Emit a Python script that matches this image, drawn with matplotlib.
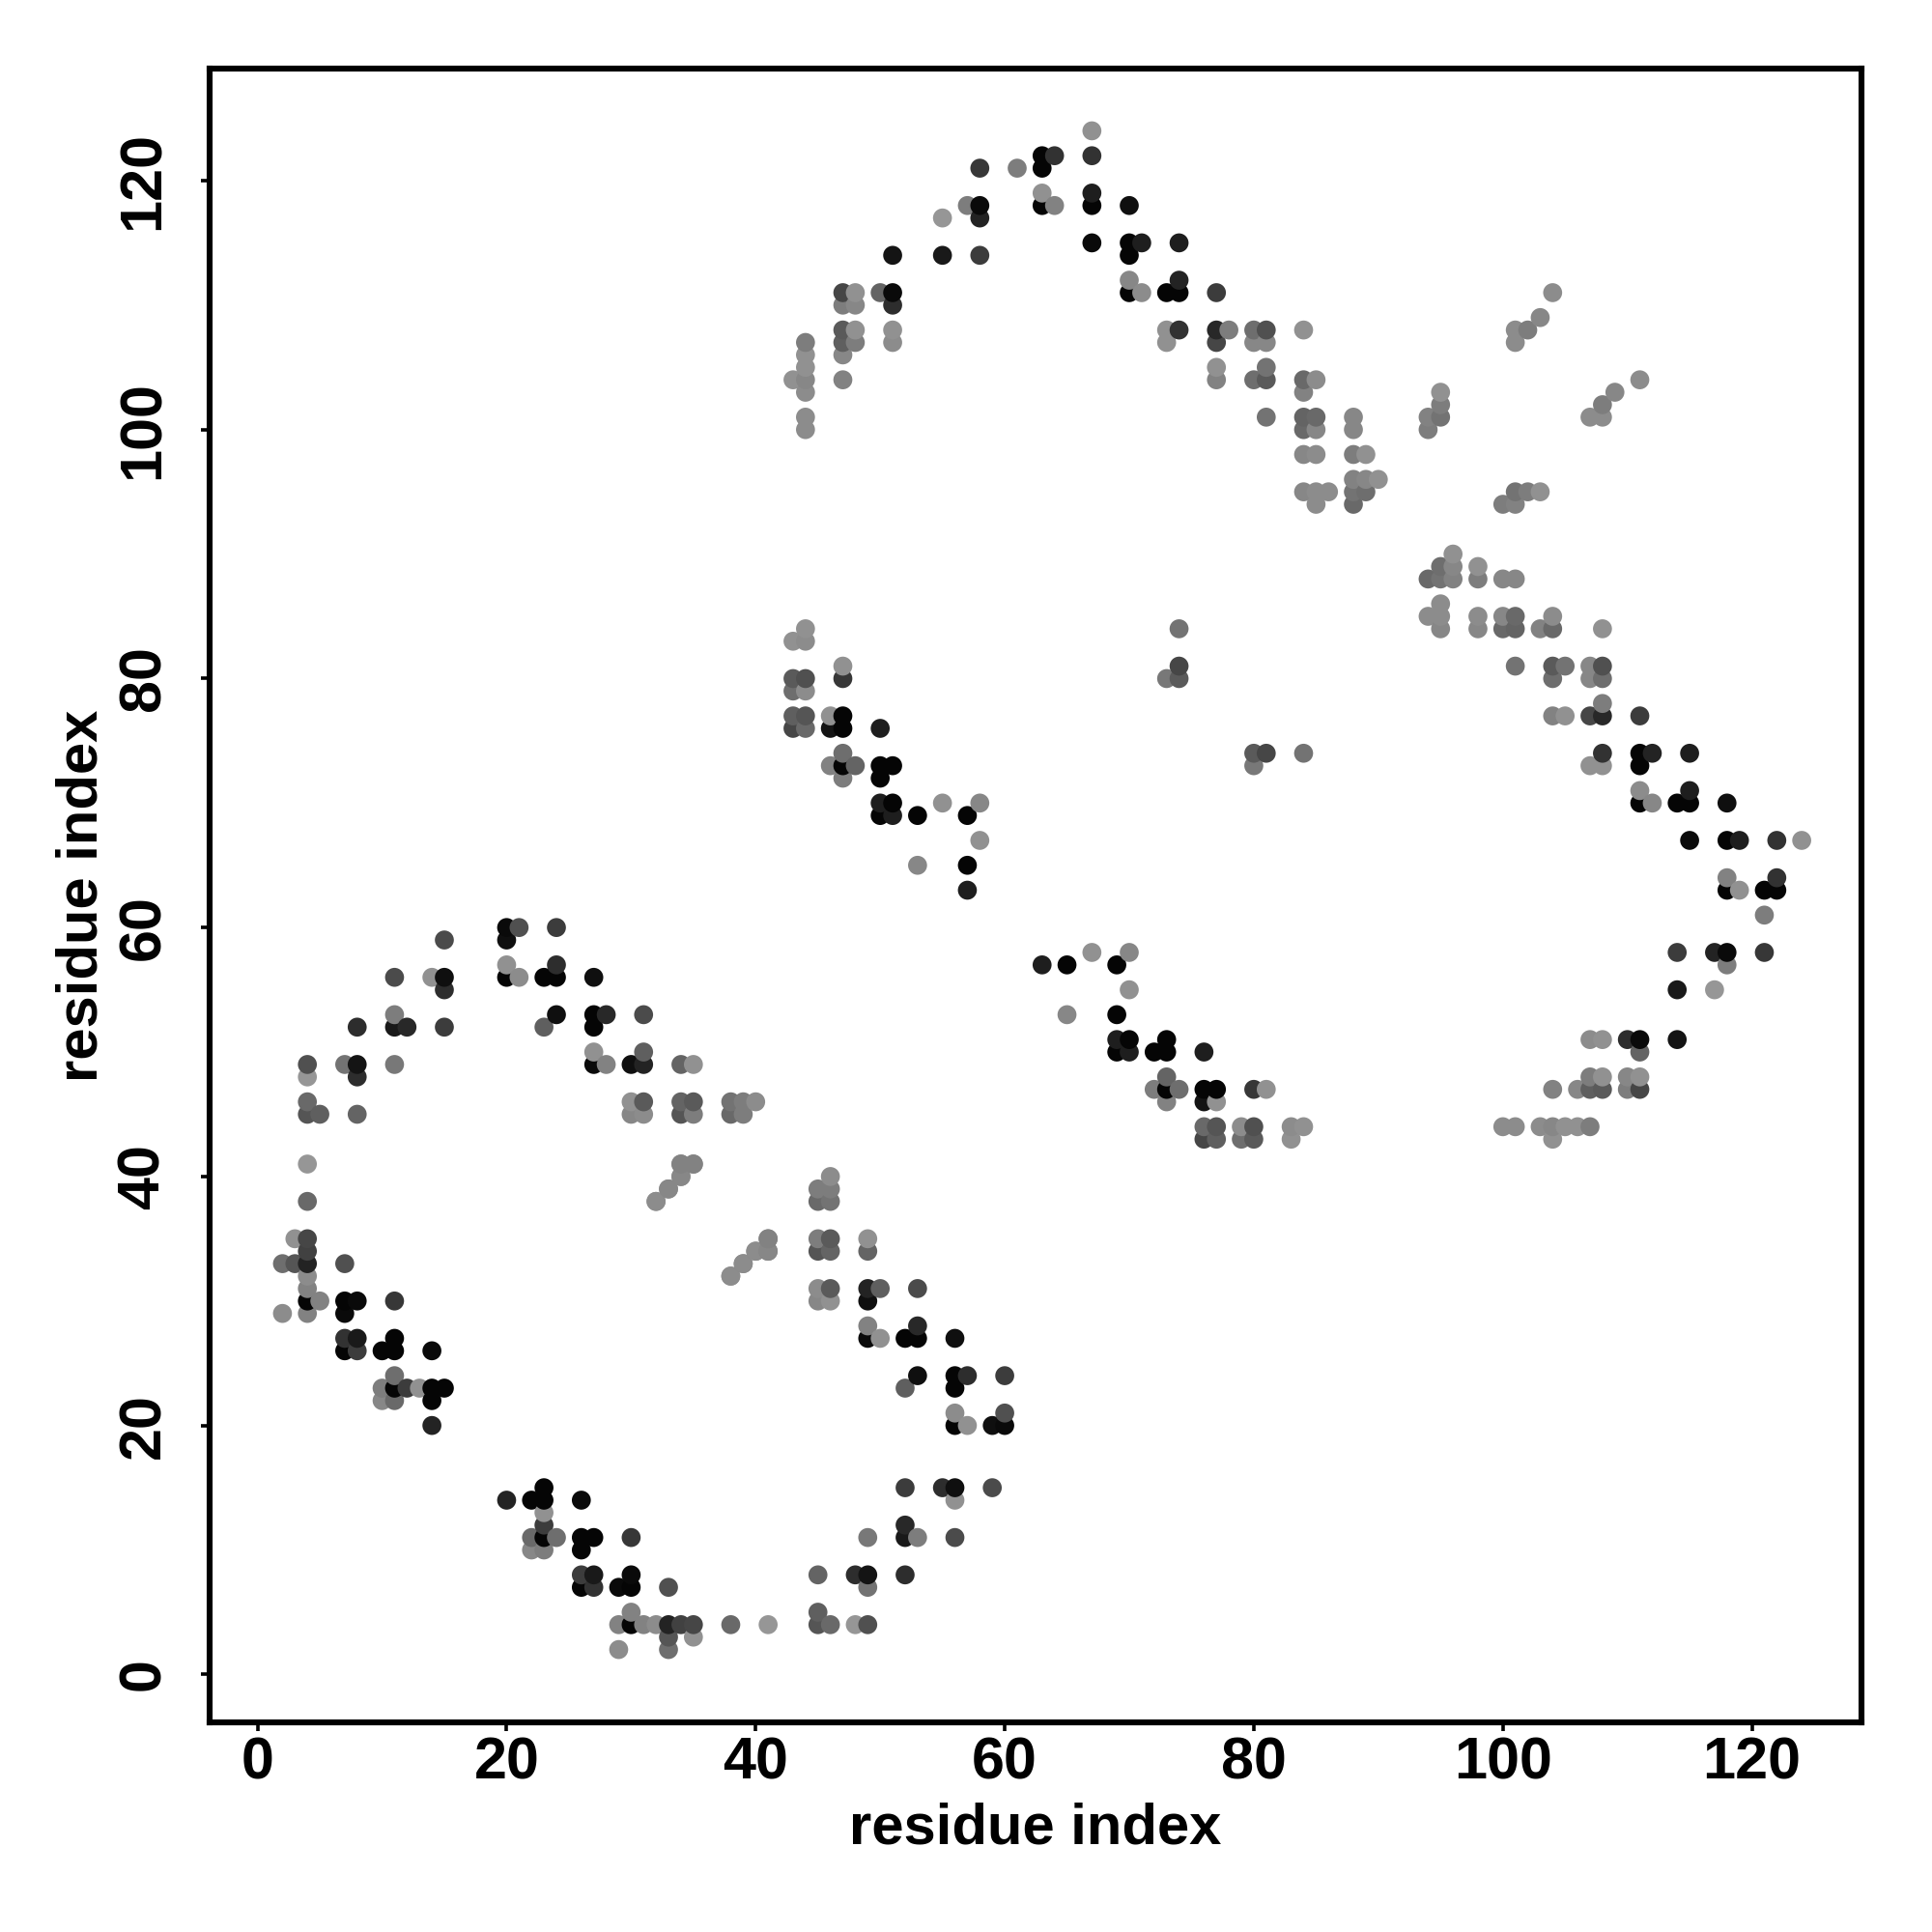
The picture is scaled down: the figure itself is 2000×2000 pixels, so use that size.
import matplotlib
matplotlib.use("Agg")
import matplotlib.pyplot as plt
import numpy as np

# contact pairs, upper triangle only (the map is symmetric), listed row by row
residue_i = [
    20, 21, 24, 15, 20, 20, 24,
    11, 14, 15, 20, 21, 23, 24, 27, 15,
    11, 24, 27, 28, 31, 8, 11, 12, 15, 23, 27, 27, 31,
    4, 7, 8, 11, 27, 28, 30, 31, 34, 35, 4, 8,
    4, 30, 31, 34, 35, 38, 39, 40, 4, 5, 8, 30, 31, 34, 35, 38, 39,
    4, 34, 35, 34, 33, 4, 32, 3, 4, 41, 4, 40, 41,
    2, 3, 4, 7, 39, 4, 38, 4, 4, 5, 7, 8, 11, 2, 4, 7,
    7, 8, 11, 7, 8, 10, 11, 14, 11,
    10, 11, 12, 13, 14, 15, 10, 11, 14, 14,
    # second lobe
    67, 63, 64, 67, 58, 61, 63, 63, 67,
    57, 58, 63, 64, 67, 70, 55, 58,
    67, 70, 71, 74, 51, 55, 58, 70, 70, 74,
    47, 48, 50, 51, 70, 71, 73, 74, 77, 47, 48, 51,
    47, 48, 51, 73, 74, 77, 78, 80, 81,
    44, 47, 48, 51, 73, 77, 80, 81, 44, 47, 44, 77, 81,
    43, 44, 47, 77, 80, 81, 44, 44, 44, 81,
    # around the 84-95 block
    84, 84, 85, 84, 84, 85, 84, 85, 88, 88, 84, 85, 88, 89,
    84, 85, 86, 85, 88, 89, 90, 88, 89, 88,
    94, 95, 94, 95, 95, 104, 103, 102, 101, 101,
    # third lobe
    44, 43, 44, 47, 47, 43, 44, 43, 44,
    43, 44, 46, 47, 43, 44, 46, 47, 50,
    47, 46, 47, 48, 47, 50, 51, 50,
    50, 51, 50, 51, 53, 55, 57, 58, 58, 53, 57, 57,
    74, 74, 74, 73,
]
residue_j = [
    60, 60, 60, 59, 59, 57, 57,
    56, 56, 56, 56, 56, 56, 56, 56, 55,
    53, 53, 53, 53, 53, 52, 52, 52, 52, 52, 52, 50, 50,
    49, 49, 49, 49, 49, 49, 49, 49, 49, 49, 48, 48,
    46, 46, 46, 46, 46, 46, 46, 46, 45, 45, 45, 45, 45, 45, 45, 45, 45,
    41, 41, 41, 40, 39, 38, 38, 35, 35, 35, 34, 34, 34,
    33, 33, 33, 33, 33, 32, 32, 31, 30, 30, 30, 30, 30, 29, 29, 29,
    27, 27, 27, 26, 26, 26, 26, 26, 24,
    23, 23, 23, 23, 23, 23, 22, 22, 22, 20,
    # second lobe
    124, 122, 122, 122, 121, 121, 121, 119, 119,
    118, 118, 118, 118, 118, 118, 117, 117,
    115, 115, 115, 115, 114, 114, 114, 114, 112, 112,
    111, 111, 111, 111, 111, 111, 111, 111, 111, 110, 110, 110,
    108, 108, 108, 108, 108, 108, 108, 108, 108,
    107, 107, 107, 107, 107, 107, 107, 107, 106, 106, 105, 105, 105,
    104, 104, 104, 104, 104, 104, 103, 101, 100, 101,
    # around the 84-95 block
    108, 104, 104, 103, 101, 101, 100, 100, 101, 100, 98, 98, 98, 98,
    95, 95, 95, 94, 96, 96, 96, 95, 95, 94,
    101, 101, 100, 103, 102, 111, 109, 108, 108, 107,
    # third lobe
    84, 83, 83, 81, 80, 80, 80, 79, 79,
    77, 77, 77, 77, 76, 76, 76, 76, 76,
    74, 73, 73, 73, 72, 73, 73, 72,
    70, 70, 69, 69, 69, 70, 69, 70, 67, 65, 65, 63,
    84, 81, 80, 80,
]
contact_grey = [
    10, 80, 60, 75, 15, 145, 45,
    75, 145, 15, 5, 140, 5, 5, 15, 45,
    125, 15, 5, 40, 75, 45, 25, 40, 60, 95, 5, 145, 95,
    80, 115, 20, 120, 10, 130, 15, 35, 100, 145, 150, 45,
    105, 145, 90, 100, 90, 115, 125, 140, 85, 95, 100, 135, 140, 85, 125, 105, 125,
    150, 135, 130, 140, 140, 105, 140, 145, 70, 130, 65, 135, 130,
    110, 85, 35, 80, 135, 140, 140, 130, 5, 130, 5, 10, 55, 140, 130, 10,
    50, 25, 5, 5, 60, 5, 5, 10, 110,
    125, 5, 60, 145, 5, 5, 135, 105, 5, 35,
    # second lobe
    145, 5, 50, 50, 55, 125, 5, 145, 30,
    125, 10, 5, 130, 5, 15, 150, 35,
    10, 5, 30, 30, 20, 25, 60, 5, 135, 35,
    70, 145, 100, 10, 5, 140, 5, 5, 60, 125, 135, 45,
    90, 145, 145, 145, 50, 40, 125, 110, 80,
    125, 95, 125, 140, 145, 70, 135, 135, 145, 135, 145, 145, 115,
    145, 135, 130, 130, 110, 90, 140, 140, 140, 115,
    # around the 84-95 block
    145, 105, 140, 130, 100, 105, 105, 135, 135, 135, 135, 140, 125, 145,
    135, 140, 140, 140, 130, 135, 145, 115, 110, 105,
    130, 115, 125, 145, 125, 140, 135, 125, 140, 140,
    # third lobe
    145, 145, 140, 145, 55, 90, 80, 110, 140,
    95, 85, 145, 5, 70, 105, 20, 5, 30,
    110, 130, 5, 100, 125, 5, 5, 5,
    30, 5, 5, 30, 5, 145, 5, 135, 145, 135, 5, 30,
    115, 70, 90, 120,
]
x_ticks = [0, 20, 40, 60, 80, 100, 120]
y_ticks = [0, 20, 40, 60, 80, 100, 120]

plt.rcParams["font.family"] = ["Liberation Sans", "DejaVu Sans"]
plt.rcParams["font.weight"] = "bold"

fig = plt.figure(figsize=(10, 10), dpi=200)
ax = fig.add_axes([217 / 2000, 1 - 1783 / 2000, 1710 / 2000, 1712 / 2000])

# both triangles of the map, later residues drawn on top as in the original
i = np.array(residue_i + residue_j)
j = np.array(residue_j + residue_i)
grey = np.array(contact_grey + contact_grey) / 255
order = np.lexsort((j, i))
ax.scatter(i[order], j[order], s=50, c=np.column_stack([grey[order]] * 3),
           linewidths=0, clip_on=False, zorder=3)

ax.set_xlim(-3.85, 128.8)
ax.set_ylim(-3.85, 129)
ax.set_xticks(x_ticks)
ax.set_yticks(y_ticks)
for s in ax.spines.values():
    s.set_linewidth(2.2)
ax.tick_params(axis="x", length=3.2, width=1.3, labelsize=22, pad=2)
ax.tick_params(axis="y", length=3.2, width=1.3, labelsize=22, pad=10.8)
plt.setp(ax.get_yticklabels(), rotation=90, va="center")
ax.set_xlabel("residue index", fontsize=21.5, fontweight="bold", labelpad=4)
ax.set_ylabel("residue index", fontsize=21.5, fontweight="bold", labelpad=3)

fig.savefig("out.png", dpi=200)
